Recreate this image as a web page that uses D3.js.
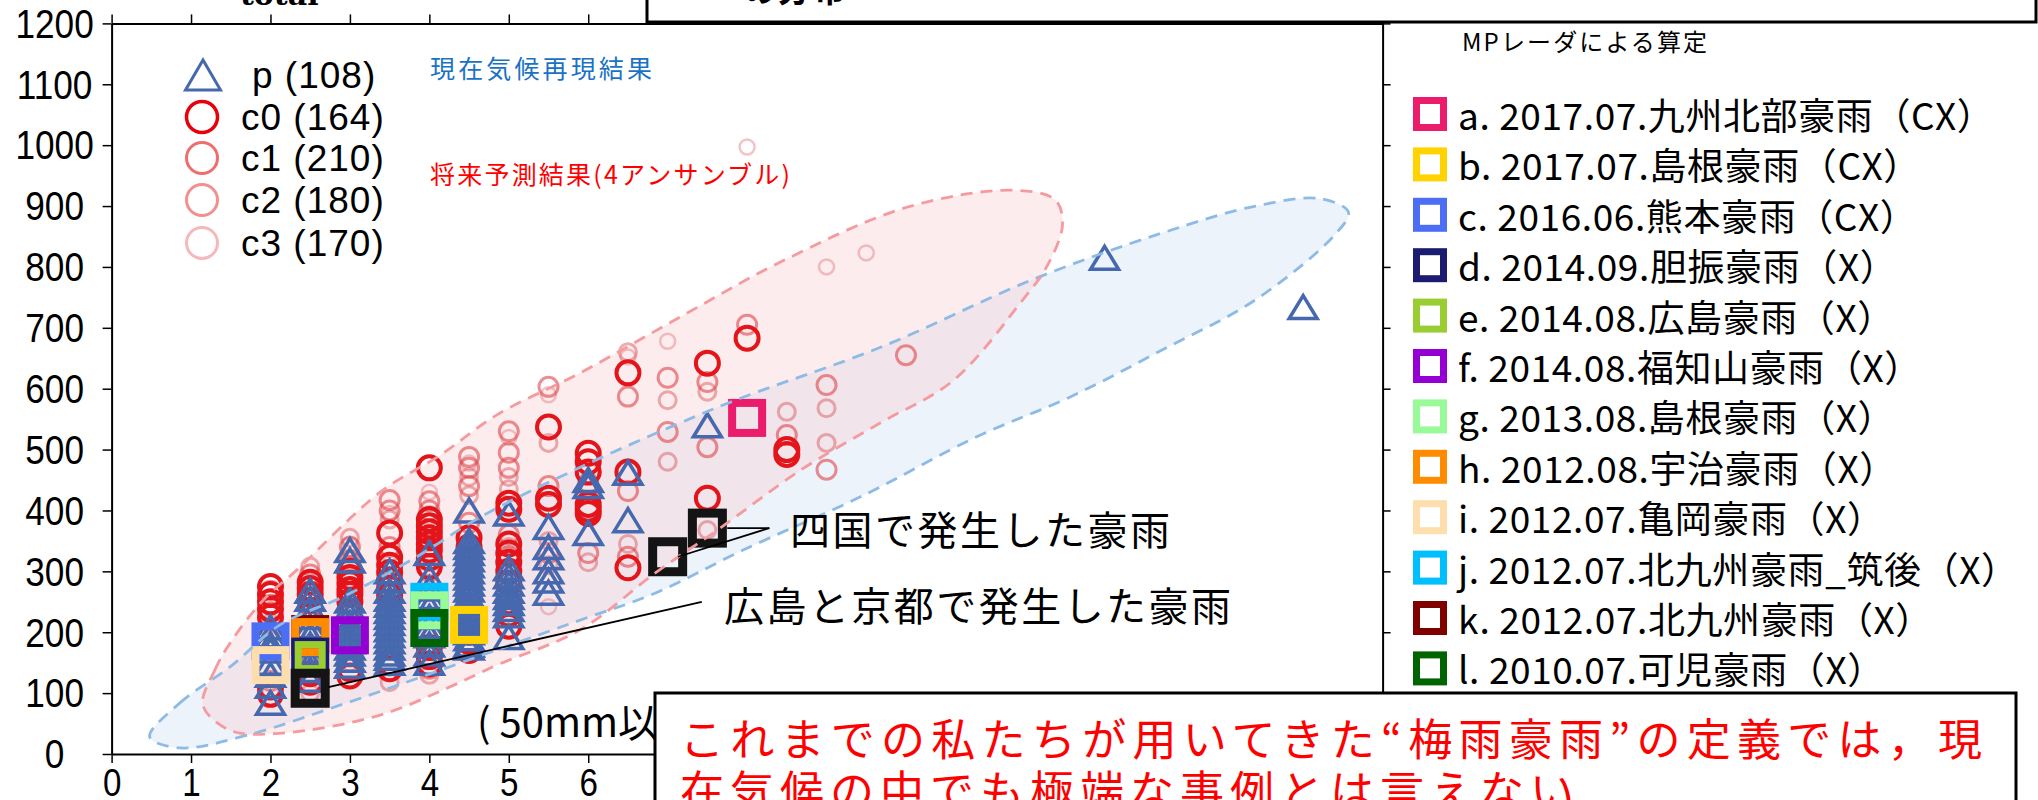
<!DOCTYPE html>
<html><head><meta charset="utf-8">
<script src="https://cdn.jsdelivr.net/npm/d3@7"></script>
<style>body{margin:0;background:#fff}svg{display:block}</style>
</head><body>
<svg id="chart" width="2038" height="800"></svg>
<script>
// ---------------- data ----------------
const xTickValues = [0,1,2,3,4,5,6,7,8,9,10,11,12,13,14,15,16];
const xTickLabels = ["0","1","2","3","4","5","6"];   // the rest are hidden by the note box
const yTickValues = [0,100,200,300,400,500,600,700,800,900,1000,1100,1200];

const legendSeries = ["p","c0","c1","c2","c3"];
const legendCounts = [108,164,210,180,170];

const pPoints = [
 [2,208],[2,195],[2,180],[2,170],[2,150],[2,130],[2,112],[2,84],
 [2.5,268],[2.5,255],[2.5,240],[2.5,225],[2.5,210],[2.5,195],[2.5,180],[2.5,165],[2.5,150],[2.5,138],[2.5,122],
 [3,335],[3,318],[3,252],[3,240],[3,228],[3,215],[3,205],[3,195],[3,185],[3,175],[3,165],[3,155],[3,145],
 [3.5,300],[3.5,285],[3.5,268],[3.5,255],[3.5,245],[3.5,235],[3.5,225],[3.5,215],[3.5,205],[3.5,195],[3.5,185],[3.5,175],[3.5,165],[3.5,158],[3.5,150],
 [4,330],[4,290],[4,272],[4,258],[4,242],[4,225],[4,210],[4,195],[4,180],[4,165],[4,150],
 [4.5,400],[4.5,350],[4.5,340],[4.5,330],[4.5,320],[4.5,310],[4.5,300],[4.5,290],[4.5,280],[4.5,270],[4.5,260],[4.5,250],[4.5,240],[4.5,230],[4.5,220],[4.5,210],[4.5,200],[4.5,190],[4.5,180],[4.5,175],
 [5,395],[5,305],[5,292],[5,280],[5,268],[5,258],[5,248],[5,238],[5,228],[5,192],
 [5.5,373],[5.5,340],[5.5,323],[5.5,300],[5.5,285],[5.5,265],
 [6,450],[6,440],[6,363],
 [6.5,462],[6.5,384],
 [7.5,540],[12.5,815],[15,734]
];
const c0Points = [
 [2,275],[2,262],[2,250],[2,238],[2,225],[2,110],[2,98],
 [2.5,282],[2.5,272],[2.5,262],[2.5,252],[2.5,132],[2.5,118],
 [3,300],[3,290],[3,280],[3,270],[3,262],[3,250],[3,140],[3,128],
 [3.5,363],[3.5,323],[3.5,310],[3.5,298],[3.5,285],[3.5,272],[3.5,260],[3.5,150],[3.5,140],
 [4,470],[4,385],[4,375],[4,365],[4,355],[4,345],[4,335],[4,322],[4,308],[4,175],[4,160],[4,148],
 [4.5,355],[4.5,340],[4.5,320],[4.5,300],[4.5,278],[4.5,260],[4.5,200],[4.5,185],[4.5,170],
 [5,412],[5,402],[5,345],[5,330],[5,315],[5,300],[5,280],[5,250],[5,230],[5,210],
 [5.5,537],[5.5,420],[5.5,410],
 [6,494],[6,480],[6,463],[6,410],[6,402],[6,395],
 [6.5,626],[6.5,463],[6.5,306],
 [7.5,642],[7.5,420],
 [8,683],
 [8.5,500],[8.5,492]
];
const c1Points = [
 [2,268],[2,245],[2,232],[2,120],
 [2.5,295],[2.5,240],[2.5,145],
 [3,340],[3,318],[3,230],[3,160],
 [3.5,417],[3.5,400],[3.5,340],[3.5,230],
 [4,415],[4,400],[4,300],[4,140],
 [4.5,488],[4.5,470],[4.5,440],[4.5,380],
 [5,530],[5,495],[5,470],[5,360],[5,325],
 [5.5,603],[5.5,440],[5.5,330],
 [6,445],[6,330],
 [6.5,587],[6.5,432],[6.5,324],
 [7,618],[7,529],
 [7.5,611],[7.5,504],
 [8,705],[8.5,524],[9,606],[9,467],[10,655]
];
const c2Points = [
 [2,215],[2,200],[2,105],
 [2.5,308],[2.5,225],[2.5,100],
 [3,355],[3,310],[3,215],[3,150],
 [3.5,385],[3.5,330],[3.5,200],[3.5,118],
 [4,390],[4,280],[4,130],
 [4.5,455],[4.5,425],[4.5,320],
 [5,455],[5,435],[5,340],[5,270],
 [5.5,511],[5.5,350],[5.5,310],
 [6,432],[6,315],
 [6.5,660],[6.5,345],
 [7,581],[7,480],
 [7.5,595],[7.5,368],
 [8.5,562],[9,568],[9,511]
];
const c3Points = [
 [2,258],[2,188],[2.5,285],[2.5,205],[3,345],[3,225],[3.5,395],[3.5,245],
 [4,430],[4,395],[4.5,478],[4.5,250],[5,520],[5,350],[5.5,590],[5.5,242],
 [6,470],[6.5,652],[7,678],[8,997],[9,800],[9.5,823]
];

// MP radar events
const eventCodes  = ["a","b","c","d","e","f","g","h","i","j","k","l"];
const eventLabels = [
 "a. 2017.07.九州北部豪雨（CX）","b. 2017.07.島根豪雨（CX）","c. 2016.06.熊本豪雨（CX）",
 "d. 2014.09.胆振豪雨（X）","e. 2014.08.広島豪雨（X）","f. 2014.08.福知山豪雨（X）",
 "g. 2013.08.島根豪雨（X）","h. 2012.08.宇治豪雨（X）","i. 2012.07.亀岡豪雨（X）",
 "j. 2012.07.北九州豪雨_筑後（X）","k. 2012.07.北九州豪雨（X）","l. 2010.07.可児豪雨（X）"
];
const eventX = [8.0,4.5,2.0,2.5,2.5,3.0,4.0,2.5,2.0,4.0,2.5,4.0];
const eventY = [552,212,185,160,160,195,236,192,146,250,197,207];
const eventDrawOrder = ["c","i","k","h","d","e","f","j","g","l","b","a"];

// highlighted (black) events
const highlightX = [2.5,7.0,7.5];
const highlightY = [108,324,371];

// distribution regions (outline points, data units)
const blueRegion = [
 [0.48,28],[0.86,84],[1.49,143],[2.12,212],[2.96,261],[3.88,327],[4.64,389],[5.90,471],[7.16,544],
 [7.95,586],[9.68,668],[11.59,779],[13.23,856],[14.40,900],[15.22,912],[15.57,890],[15.40,853],
 [14.40,746],[13.23,664],[12.06,586],[10.89,521],[9.42,422],[7.95,335],[6.84,264],[5.90,220],
 [4.85,171],[3.80,122],[2.96,84],[1.71,31],[0.86,10]
];
const redRegion = [
 [1.15,80],[1.30,138],[1.49,182],[1.91,253],[2.33,302],[3.38,430],[4.14,491],[4.85,557],[5.90,626],
 [7.16,718],[8.42,808],[10.01,898],[11.35,926],[11.88,910],[11.97,869],[11.77,800],[11.47,746],
 [10.60,614],[9.68,544],[8.67,466],[7.66,371],[6.84,297],[5.90,204],[4.85,146],[4.22,108],
 [3.38,64],[2.12,34],[1.49,39]
];

// annotations
const shikokuText = "四国で発生した豪雨";
const hiroshimaText = "広島と京都で発生した豪雨";
const shikokuAnchor = [8.28,371];
const shikokuTargets = [[7.75,371],[7.13,324]];
const hiroshimaLine = [[7.43,250],[2.73,110]];
const presentText = "現在気候再現結果";
const futureText = "将来予測結果(4アンサンブル)";
const legendTitle = "MPレーダによる算定";
const noteLine1 = "これまでの私たちが用いてきた“梅雨豪雨”の定義では，現";
const noteLine2 = "在気候の中でも極端な事例とは言えない";
const unitText = "( 50mm以上の";
const topLeftText = "total";
const topBoxText = "の分布";

// ---------------- styles ----------------
const eventColors = {a:"#ec1c6c",b:"#ffd200",c:"#4b6ef5",d:"#1b1b6f",e:"#9acd32",f:"#9400d3",
  g:"#98fb98",h:"#ff8c00",i:"#ffdead",j:"#00bfff",k:"#800000",l:"#006400"};
const triColor = "#4668ae";
const jp = "'Noto Sans CJK JP', sans-serif";
const lat = "'Liberation Sans', Arial, sans-serif";

// ---------------- drawing ----------------
const svg = d3.select("#chart");
svg.append("rect").attr("width",2038).attr("height",800).attr("fill","#fff");

const x = d3.scaleLinear().domain([0,16]).range([111.6,1382.6]);
const y = d3.scaleLinear().domain([0,1200]).range([754,23.4]);

const outline = d3.line().x(d=>x(d[0])).y(d=>y(d[1])).curve(d3.curveCatmullRomClosed.alpha(0.5));

// region fills
svg.append("path").attr("d",outline(blueRegion)).attr("fill","#dce8f6").attr("fill-opacity",0.5);
svg.append("path").attr("d",outline(redRegion)).attr("fill","#f7cdd0").attr("fill-opacity",0.38);

// axes
const axB = svg.append("g").attr("transform",`translate(0,${y(0)})`)
  .call(d3.axisBottom(x).tickValues(xTickValues).tickSize(9).tickSizeOuter(0)
    .tickFormat((d,i)=> i < xTickLabels.length ? xTickLabels[i] : ""));
axB.selectAll("text").attr("y",0).attr("dy",0)
  .attr("transform","translate(0,42) scale(0.85,1)")
  .attr("font-size",39).attr("font-family",lat).attr("fill","#000");
const axL = svg.append("g").attr("transform",`translate(${x(0)},0)`)
  .call(d3.axisLeft(y).tickValues(yTickValues).tickSize(9).tickSizeOuter(0).tickFormat(d3.format("d")));
axL.selectAll("text").attr("x",0).attr("dy",0).attr("dominant-baseline","central")
  .attr("transform","translate(-57,0) scale(0.88,1)")
  .attr("text-anchor","middle").attr("font-size",40).attr("font-family",lat).attr("fill","#000");
svg.append("g").attr("transform",`translate(0,${y(1200)})`)
  .call(d3.axisTop(x).tickValues(xTickValues).tickSize(9).tickSizeOuter(0).tickFormat(""));
svg.append("g").attr("transform",`translate(${x(16)},0)`)
  .call(d3.axisRight(y).tickValues(yTickValues).tickSize(8).tickSizeOuter(0).tickFormat(""));
svg.selectAll(".domain").attr("stroke","#000").attr("stroke-width",2);
svg.selectAll(".tick line").attr("stroke","#000").attr("stroke-width",1.5);

// circles
function circles(data, r, sw, color, op){
  svg.append("g").selectAll("circle").data(data).join("circle")
    .attr("cx",d=>x(d[0])).attr("cy",d=>y(d[1])).attr("r",r)
    .attr("fill","none").attr("stroke",color).attr("stroke-width",sw).attr("stroke-opacity",op);
}
circles(c3Points, 7.5, 2.5, "#e07d84", 0.45);
circles(c2Points, 8.5, 3, "#dc6a70", 0.55);
circles(c1Points, 9.5, 3, "#e0454a", 0.6);
circles(c0Points, 11.5, 4, "#e4141b", 1);

// triangles
function triPath(w,h){ return `M0,${-h/2}L${w/2},${h/2}L${-w/2},${h/2}Z`; }
svg.append("g").selectAll("path").data(pPoints).join("path")
  .attr("transform",d=>`translate(${x(d[0])},${y(d[1])})`).attr("d",triPath(28,23))
  .attr("fill","none").attr("stroke",triColor).attr("stroke-width",3.5).attr("stroke-linejoin","miter");

// event squares
const gEv = svg.append("g");
eventDrawOrder.forEach(code=>{
  const i = eventCodes.indexOf(code);
  const side = code==="e" ? 24 : 30;
  gEv.append("rect").attr("x",x(eventX[i])-side/2).attr("y",y(eventY[i])-side/2)
    .attr("width",side).attr("height",side).attr("fill","none")
    .attr("stroke",eventColors[code]).attr("stroke-width",code==="e"?7:8);
});
// highlighted squares
svg.append("g").selectAll("rect").data(highlightX.map((v,i)=>[v,highlightY[i]])).join("rect")
  .attr("x",d=>x(d[0])-15).attr("y",d=>y(d[1])-15).attr("width",30).attr("height",30)
  .attr("fill","none").attr("stroke","#141414").attr("stroke-width",9);

// region outlines
svg.append("path").attr("d",outline(blueRegion)).attr("fill","none").attr("stroke","#8dbbe6")
  .attr("stroke-width",2.8).attr("stroke-dasharray","12 8");
svg.append("path").attr("d",outline(redRegion)).attr("fill","none").attr("stroke","#f59a9e")
  .attr("stroke-width",2.8).attr("stroke-dasharray","12 8");

// leader lines
shikokuTargets.forEach(t=>{
  svg.append("line").attr("x1",x(shikokuAnchor[0])).attr("y1",y(shikokuAnchor[1]))
    .attr("x2",x(t[0])).attr("y2",y(t[1])).attr("stroke","#000").attr("stroke-width",1.8);
});
svg.append("line").attr("x1",x(hiroshimaLine[0][0])).attr("y1",y(hiroshimaLine[0][1]))
  .attr("x2",x(hiroshimaLine[1][0])).attr("y2",y(hiroshimaLine[1][1])).attr("stroke","#000").attr("stroke-width",1.8);

svg.append("text").attr("x",790).attr("y",y(shikokuAnchor[1])).attr("dominant-baseline","central")
  .attr("font-family",jp).attr("font-size",40).attr("textLength",380).text(shikokuText);
svg.append("text").attr("x",724).attr("y",604).attr("dominant-baseline","central")
  .attr("font-family",jp).attr("font-size",40).attr("textLength",507).text(hiroshimaText);

// annotations in plot
svg.append("text").attr("x",430).attr("y",67).attr("dominant-baseline","central")
  .attr("font-family",jp).attr("font-size",25).attr("fill","#1a72c4").attr("textLength",222).text(presentText);
svg.append("text").attr("x",430).attr("y",173).attr("dominant-baseline","central")
  .attr("font-family",jp).attr("font-size",25).attr("fill","#ff0000").attr("textLength",360).text(futureText);

// top-left legend
const legY = [75,117,158,200,243];
const legColors = ["#e8000b","#ee6e6e","#f29090","#f6b8b8"];
const legW = [3.5,3,3,3];
legendSeries.forEach((s,i)=>{
  if(i===0){
    svg.append("path").attr("transform",`translate(203,${legY[i]})`).attr("d",triPath(35,30))
      .attr("fill","none").attr("stroke",triColor).attr("stroke-width",3);
  } else {
    svg.append("circle").attr("cx",202).attr("cy",legY[i]).attr("r",15.5)
      .attr("fill","none").attr("stroke",legColors[i-1]).attr("stroke-width",legW[i-1]);
  }
  svg.append("text").attr("x",i===0?252:241).attr("y",legY[i]).attr("dominant-baseline","central")
    .attr("font-family",lat).attr("font-size",37).attr("letter-spacing",1).text(`${s} (${legendCounts[i]})`);
});

// right legend
svg.append("text").attr("x",1462).attr("y",40).attr("dominant-baseline","central")
  .attr("font-family",jp).attr("font-size",24).attr("textLength",245).text(legendTitle);
eventCodes.forEach((code,i)=>{
  const cy = 114 + i*50.4;
  svg.append("rect").attr("x",1430-13.5).attr("y",cy-13.5).attr("width",27).attr("height",27)
    .attr("fill","#fff").attr("stroke",eventColors[code]).attr("stroke-width",7);
  svg.append("text").attr("x",1458).attr("y",cy).attr("dominant-baseline","central")
    .attr("font-family",jp).attr("font-size",37).attr("letter-spacing",0.6).text(eventLabels[i]);
});

// unit text (partially covered)
svg.append("text").attr("x",477).attr("y",720).attr("dominant-baseline","central")
  .attr("font-family",jp).attr("font-size",40).text(unitText);

// top cut-off texts and box
svg.append("text").attr("x",240).attr("y",5).attr("font-family","'DejaVu Serif', serif")
  .attr("font-weight","bold").attr("font-size",30).text(topLeftText);
svg.append("rect").attr("x",647).attr("y",-6).attr("width",1389).attr("height",28)
  .attr("fill","#fff").attr("stroke","#000").attr("stroke-width",3);
svg.append("text").attr("x",743).attr("y",2).attr("font-family",jp).attr("font-weight","bold")
  .attr("font-size",34).text(topBoxText);

// bottom note box
svg.append("rect").attr("x",655).attr("y",693).attr("width",1361).attr("height",130)
  .attr("fill","#fff").attr("stroke","#000").attr("stroke-width",3);
svg.append("text").attr("x",680).attr("y",737).attr("dominant-baseline","central")
  .attr("font-family",jp).attr("font-size",44).attr("fill","#ff0000").attr("textLength",1302).text(noteLine1);
svg.append("text").attr("x",680).attr("y",789).attr("dominant-baseline","central")
  .attr("font-family",jp).attr("font-size",44).attr("fill","#ff0000").attr("letter-spacing",6).text(noteLine2);
</script>
</body></html>
